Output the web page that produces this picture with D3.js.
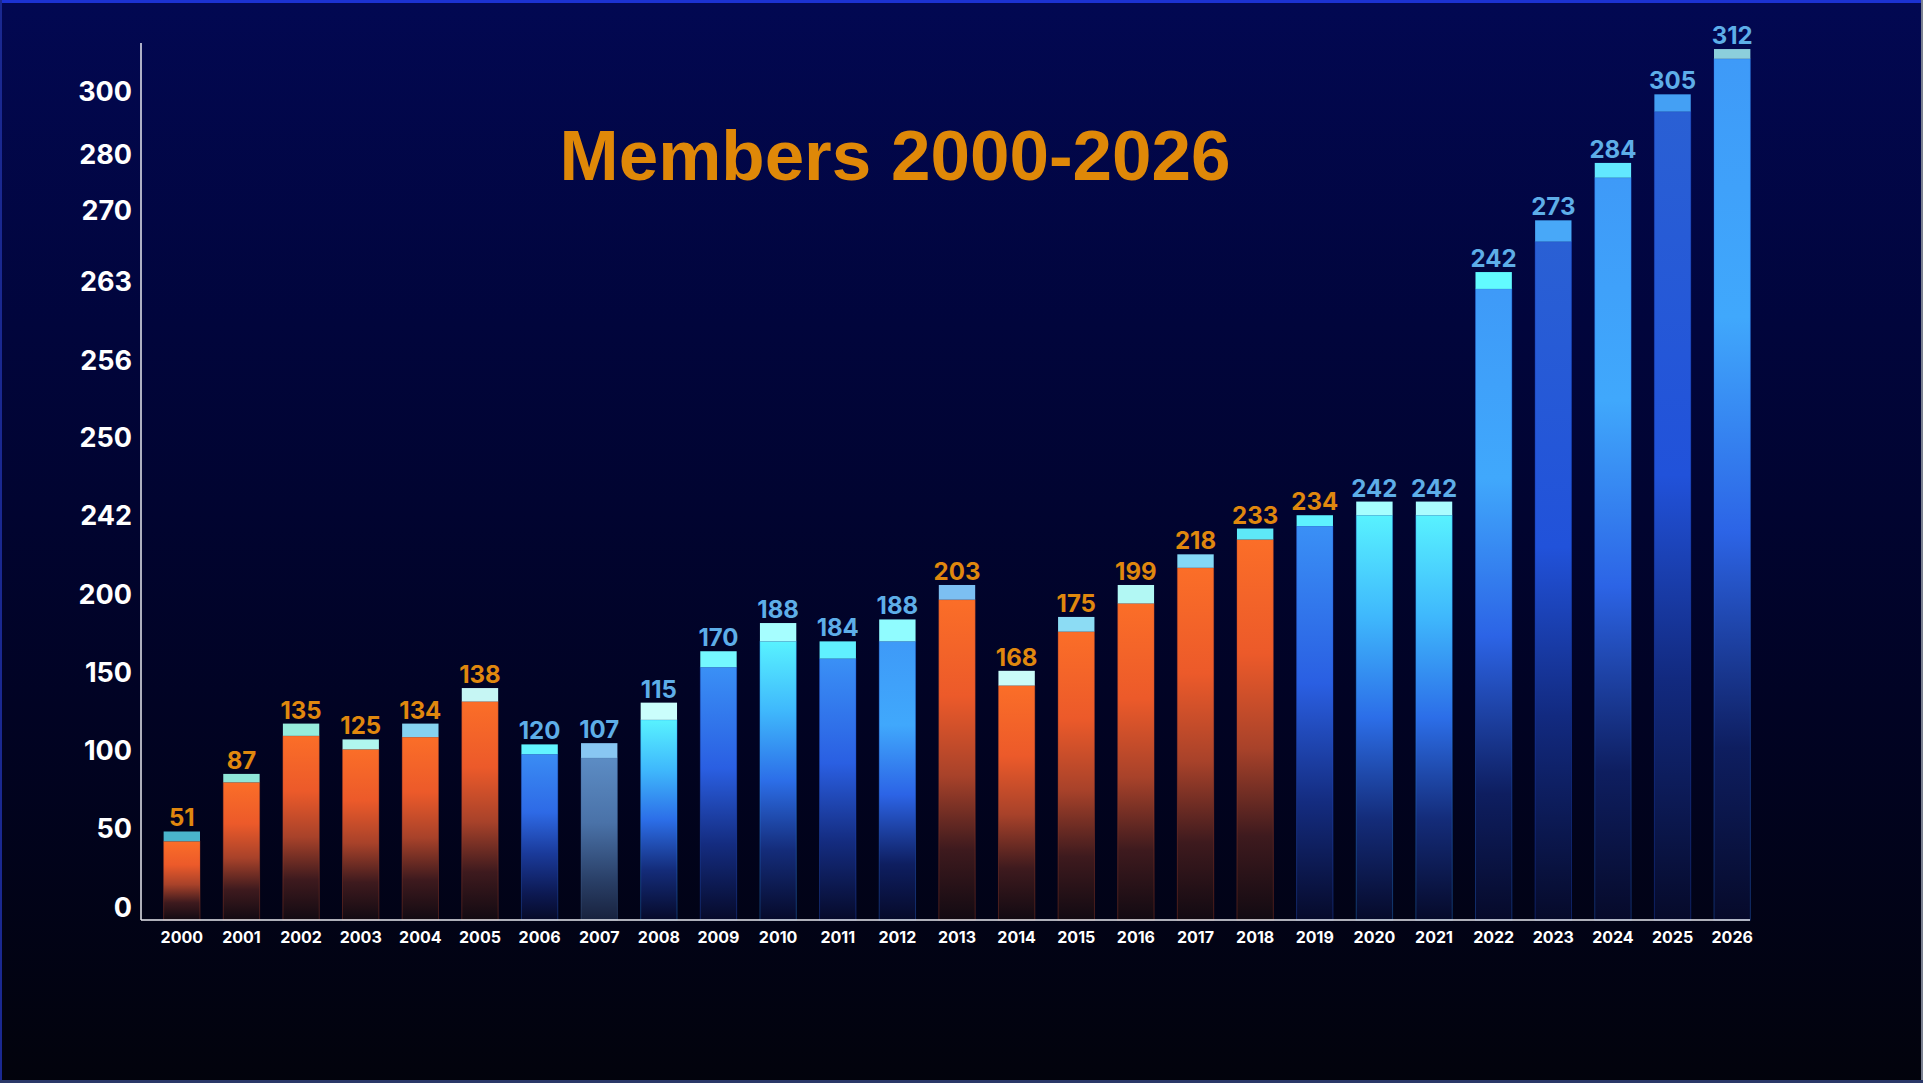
<!DOCTYPE html>
<html>
<head>
<meta charset="utf-8">
<script src="https://cdn.jsdelivr.net/npm/d3@7"></script>
<style>
  html, body { margin: 0; padding: 0; background: #02030e; overflow: hidden; }
  #chart svg { display: block; }
</style>
</head>
<body>
<div id="chart"></div>
<script>
// ---- data ----
const years = ["2000","2001","2002","2003","2004","2005","2006","2007","2008","2009",
  "2010","2011","2012","2013","2014","2015","2016","2017","2018","2019",
  "2020","2021","2022","2023","2024","2025","2026"];
// value printed above each bar
const members = [51, 87, 135, 125, 134, 138, 120, 107, 115, 170, 188, 184, 188, 203,
  168, 175, 199, 218, 233, 234, 242, 242, 242, 273, 284, 305, 312];
// level (in axis units) where the main bar segment ends
const baseLevel = [42.1, 79.7, 109.5, 100.8, 108.7, 131.6, 97.7, 95.3, 119.8, 153.7,
  170.2, 159.2, 170.2, 196.8, 141.9, 176.4, 194.4, 214.4, 229.5, 236.7,
  242.1, 242.1, 262.4, 267.0, 275.9, 293.6, 310.4];
// level (in axis units) where the light top segment ends
const topLevel = [48.3, 85.1, 117.4, 107.2, 117.4, 140.3, 104.0, 104.8, 130.9, 163.9,
  181.9, 170.2, 184.2, 205.2, 151.4, 185.8, 205.2, 221.6, 235.4, 242.1,
  243.5, 243.5, 264.0, 269.1, 278.5, 299.1, 313.5];
const yTicks = [0, 50, 100, 150, 200, 242, 250, 256, 263, 270, 280, 300];

// ---- styling per bar ----
const labelTone = ["o","o","o","o","o","o","b","b","b","b","b","b","b",
  "o","o","o","o","o","o","o","b","b","b","b","b","b","b"];
const bodyTheme = ["orange","orange","orange","orange","orange","orange","blue","slate","cyan","royal",
  "cyan","royal","azure","orange","orange","orange","orange","orange","orange","royal",
  "cyan","cyan","azure","indigo","azure","indigo","azure"];
const capColor = ["#4ab4cc","#8ee6d8","#96ecdc","#b0f6ef","#86d2f0","#c6f6f4","#62f4ff","#88c6f2","#cafefc","#74f8ff",
  "#a6feff","#60f0ff","#90fcff","#7cbff2","#cafcf8","#8cdcf4","#b2f8f4","#84d8f6","#5ee8f8","#5ef2ff",
  "#a6feff","#aafcff","#62faff","#48a8f8","#62e8ff","#44a0f4","#8ccfdc"];

const themes = {
  orange: [[0,"#fb6e28"],[0.3,"#ec5a2a"],[0.55,"#a8422a"],[0.78,"#3e1a1e"],[1,"#120a12"]],
  blue:   [[0,"#3a8cf4"],[0.35,"#2e6ae6"],[0.6,"#1a3a9a"],[0.85,"#0c1850"],[1,"#060a28"]],
  slate:  [[0,"#5c8cc4"],[0.4,"#4a72a8"],[0.75,"#2a4068"],[1,"#18223e"]],
  cyan:   [[0,"#58f2ff"],[0.25,"#3fb8fc"],[0.5,"#2c6ee8"],[0.75,"#142c7a"],[1,"#060a2a"]],
  royal:  [[0,"#3a90f6"],[0.4,"#2a5fe2"],[0.7,"#142c80"],[1,"#060a2a"]],
  azure:  [[0,"#3e9af8"],[0.3,"#40a8fc"],[0.55,"#2c64e6"],[0.8,"#0e1e60"],[1,"#060a2a"]],
  indigo: [[0,"#2a60d4"],[0.45,"#2152da"],[0.7,"#122a80"],[1,"#060a2a"]]
};
const themeStroke = {orange:"#b8482a", blue:"#2e6ae6", slate:"#4a72a8", cyan:"#2c8ef0",
  royal:"#2a5fe2", azure:"#2c74ea", indigo:"#2152da"};

const W = 1923, H = 1083;
const axisX = 141, axisTop = 43, axisY = 920, axisRight = 1750;

const svg = d3.select("#chart").append("svg")
  .attr("width", W).attr("height", H);
const defs = svg.append("defs");

// background
const bg = defs.append("linearGradient").attr("id", "bg")
  .attr("x1", 0).attr("y1", 0).attr("x2", 0).attr("y2", 1);
[[0,"#020852"],[0.3,"#01053c"],[0.65,"#010324"],[1,"#02030c"]].forEach(s =>
  bg.append("stop").attr("offset", s[0]).attr("stop-color", s[1]));
svg.append("rect").attr("width", W).attr("height", H).attr("fill", "url(#bg)");

Object.entries(themes).forEach(([name, stops]) => {
  const g = defs.append("linearGradient").attr("id", "g-" + name)
    .attr("x1", 0).attr("y1", 0).attr("x2", 0).attr("y2", 1);
  stops.forEach(s => g.append("stop").attr("offset", s[0]).attr("stop-color", s[1]));
});

// frame
svg.append("rect").attr("x", 0).attr("y", 0).attr("width", W).attr("height", 3).attr("fill", "#1c32d2");
svg.append("rect").attr("x", 0).attr("y", 0).attr("width", 2).attr("height", H).attr("fill", "#1a2890");
svg.append("rect").attr("x", W - 2).attr("y", 0).attr("width", 2).attr("height", H).attr("fill", "#7c8292");
svg.append("rect").attr("x", 0).attr("y", H - 3).attr("width", W).attr("height", 3).attr("fill", "#2a3868");

// scales
const x = d3.scaleBand()
  .domain(years)
  .range([152, 1762])
  .paddingInner(0.39)
  .paddingOuter(0.195);

// the axis is broken: labelled ticks are spaced by hand, not by value
const y = d3.scaleLinear()
  .domain(yTicks)
  .range([907.8, 828.8, 750.6, 673, 594.7, 516.2, 438.2, 360.7, 282.2, 211.2, 154.4, 91.5]);

const rows = years.map((yr, i) => ({
  year: yr, value: members[i], base: baseLevel[i], top: topLevel[i],
  tone: labelTone[i], theme: bodyTheme[i], cap: capColor[i]
}));

// bars
const bars = svg.append("g").attr("class", "bars");
bars.selectAll("rect.body")
  .data(rows)
  .join("rect")
  .attr("class", "body")
  .attr("x", d => x(d.year))
  .attr("width", x.bandwidth())
  .attr("y", d => y(d.base))
  .attr("height", d => axisY - y(d.base))
  .attr("fill", d => `url(#g-${d.theme})`)
  .attr("stroke", d => themeStroke[d.theme])
  .attr("stroke-opacity", 0.35)
  .attr("stroke-width", 1);

bars.selectAll("rect.cap")
  .data(rows)
  .join("rect")
  .attr("class", "cap")
  .attr("x", d => x(d.year))
  .attr("width", x.bandwidth())
  .attr("y", d => y(d.top))
  .attr("height", d => y(d.base) - y(d.top))
  .attr("fill", d => d.cap);

// value labels
svg.append("g").selectAll("text")
  .data(rows)
  .join("text")
  .attr("x", d => x(d.year) + x.bandwidth() / 2)
  .attr("y", d => y(d.top) - 5)
  .attr("text-anchor", "middle")
  .attr("font-family", "Inter, 'Noto Sans', sans-serif")
  .attr("font-weight", 700)
  .attr("font-size", 24)
  .attr("fill", d => d.tone === "o" ? "#e0880e" : "#5eaee8")
  .text(d => d.value);

// axes
const yAxis = svg.append("g")
  .attr("transform", `translate(${axisX},0)`)
  .call(d3.axisLeft(y).tickValues(yTicks).tickSize(0).tickPadding(9).tickFormat(d3.format("d")));
yAxis.select(".domain").remove();
yAxis.selectAll("text")
  .attr("font-family", "Inter, 'Noto Sans', sans-serif")
  .attr("font-weight", 700)
  .attr("font-size", 27)
  .attr("fill", "#ffffff");

const xAxis = svg.append("g")
  .attr("transform", `translate(0,${axisY})`)
  .call(d3.axisBottom(x).tickSize(0).tickPadding(12));
xAxis.select(".domain").remove();
xAxis.selectAll("text")
  .attr("font-family", "Inter, 'Noto Sans', sans-serif")
  .attr("font-weight", 700)
  .attr("font-size", 16)
  .attr("fill", "#ffffff");

svg.append("line")
  .attr("x1", axisX).attr("x2", axisX)
  .attr("y1", axisTop).attr("y2", axisY)
  .attr("stroke", "#e8eaf0").attr("stroke-width", 1.5);
svg.append("line")
  .attr("x1", axisX).attr("x2", axisRight)
  .attr("y1", axisY).attr("y2", axisY)
  .attr("stroke", "#e8eaf0").attr("stroke-width", 1.5);

// title
svg.append("text")
  .attr("x", 895)
  .attr("y", 180)
  .attr("text-anchor", "middle")
  .attr("font-family", "'Liberation Sans', Arial, sans-serif")
  .attr("font-weight", 700)
  .attr("font-size", 71)
  .attr("fill", "#df8808")
  .text("Members 2000-2026");
</script>
</body>
</html>
